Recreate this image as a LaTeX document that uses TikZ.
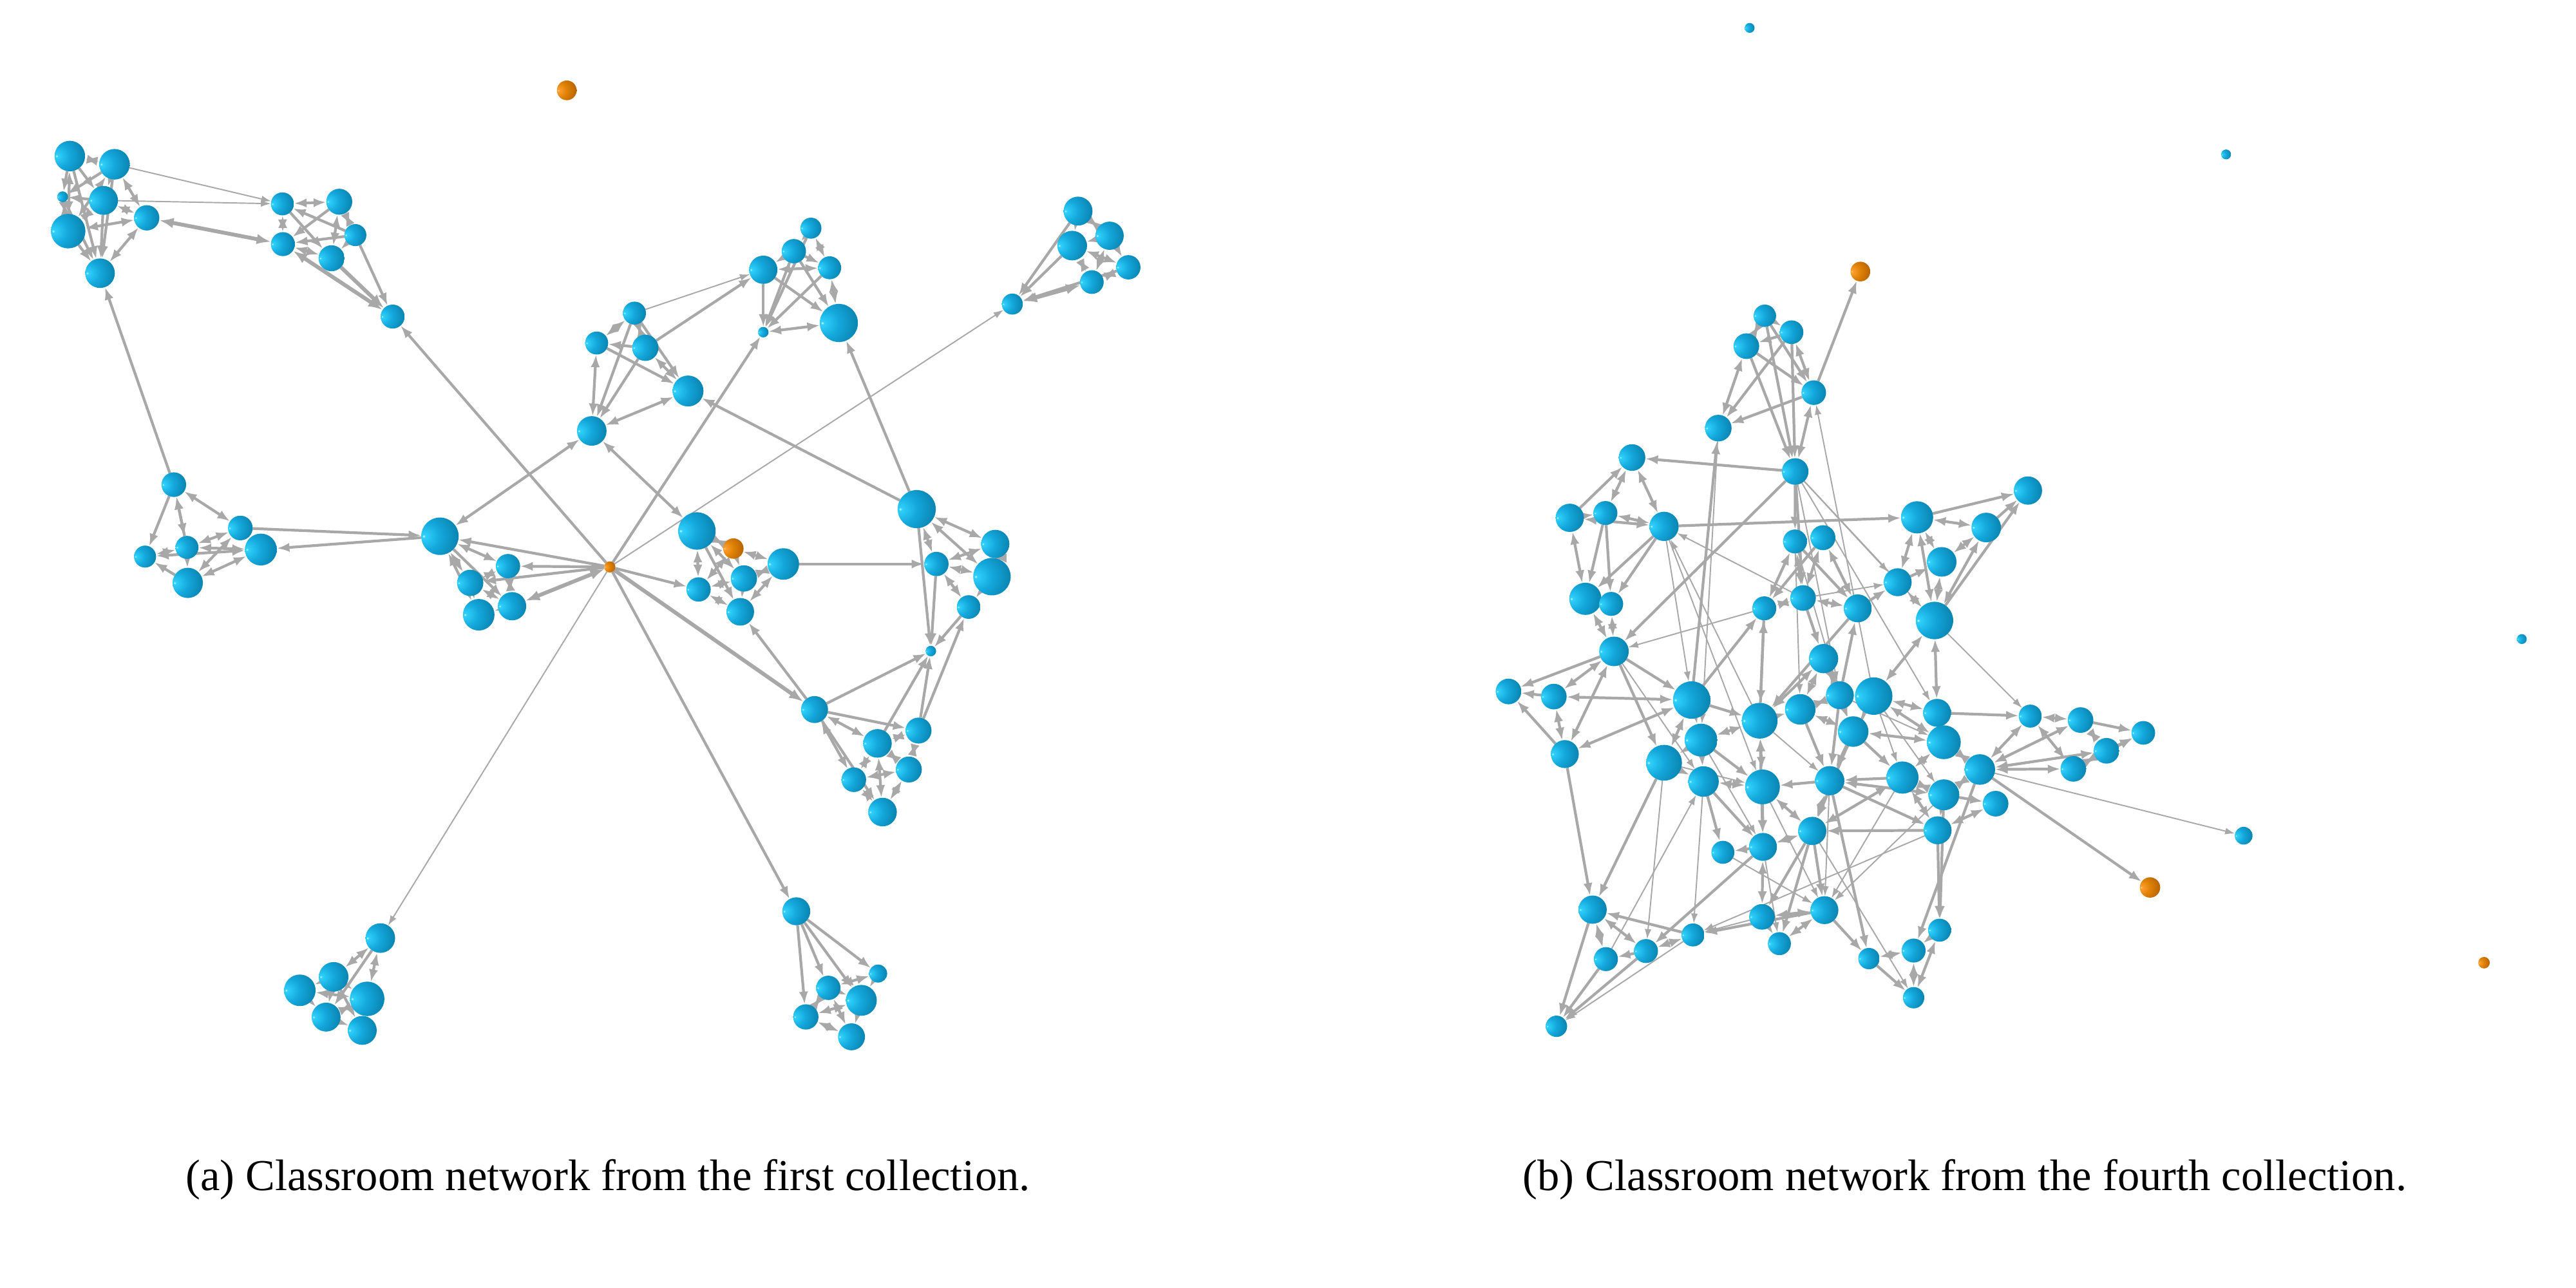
\documentclass[tikz,border=0pt]{standalone}
\usepackage{fontspec}
\setmainfont{Liberation Serif}
\usetikzlibrary{arrows.meta}
\definecolor{egray}{HTML}{A8A8A8}
\definecolor{bA}{HTML}{E0FFFF}
\definecolor{bB}{HTML}{30D0FA}
\definecolor{bC}{HTML}{14A8DC}
\definecolor{bD}{HTML}{0A85B2}
\definecolor{bE}{HTML}{035F7E}
\definecolor{bF}{HTML}{004860}
\definecolor{oA}{HTML}{FFF0C8}
\definecolor{oB}{HTML}{FFA030}
\definecolor{oC}{HTML}{E08208}
\definecolor{oD}{HTML}{B86400}
\definecolor{oE}{HTML}{884600}
\definecolor{oF}{HTML}{603000}
\pgfdeclareradialshading{bsph}{\pgfpoint{-22bp}{0bp}}{color(0bp)=(bA); color(2bp)=(bB); color(18bp)=(bC); color(38bp)=(bD); color(55bp)=(bE); color(70bp)=(bF); color(100bp)=(bF)}
\pgfdeclareradialshading{osph}{\pgfpoint{-22bp}{0bp}}{color(0bp)=(oA); color(2bp)=(oB); color(18bp)=(oC); color(38bp)=(oD); color(55bp)=(oE); color(70bp)=(oF); color(100bp)=(oF)}
\pgfdeclarelayer{bgl}
\pgfdeclarelayer{edges}
\pgfsetlayers{bgl,edges,main}
\tikzset{
 ball/.style={circle, inner sep=0pt, outer sep=0pt, draw=none, shading=bsph},
 oball/.style={circle, inner sep=0pt, outer sep=0pt, draw=none, shading=osph},
 ed/.style={draw=egray, line width=1.2pt, -{Latex[length=5.6pt,width=4pt]}},
 eb/.style={draw=egray, line width=1.2pt, {Latex[length=5.6pt,width=4pt]}-{Latex[length=5.6pt,width=4pt]}},
 et/.style={draw=egray, line width=0.55pt, -{Latex[length=4.4pt,width=3pt]}},
 ek/.style={draw=egray, line width=1.7pt, {Latex[length=6.4pt,width=4.6pt]}-{Latex[length=6.4pt,width=4.6pt]}},
 ekd/.style={draw=egray, line width=1.7pt, -{Latex[length=6.4pt,width=4.6pt]}},
 captext/.style={font=\fontsize{19.5}{23}\selectfont, inner sep=0pt}
}
\newcommand{\ballnode}[4]{\node[ball, minimum size=#4*0.5102mm] (#1) at (#2,#3) {};}
\newcommand{\orangenode}[4]{\node[oball, minimum size=#4*0.5102mm] (#1) at (#2,#3) {};}
\begin{document}
\begin{tikzpicture}[x=0.2551mm,y=-0.2551mm]
\useasboundingbox (0,0) rectangle (1568,784);
\begin{pgfonlayer}{bgl}
\fill[white] (0,0) rectangle (1568,784);
\end{pgfonlayer}
% ---------------- left graph nodes
\ballnode{a1}{42.5}{95}{9.3}
\ballnode{a2}{69.7}{100}{9.3}
\ballnode{a3}{38.1}{119.8}{3.3}
\ballnode{a4}{63}{122}{8.8}
\ballnode{a5}{41.5}{140.7}{10.5}
\ballnode{a6}{89.3}{132.6}{7.7}
\ballnode{a7}{60.9}{166.3}{9}
\ballnode{t1}{171.9}{124.1}{7}
\ballnode{t2}{206.5}{122.8}{7.9}
\ballnode{t3}{216.3}{143.1}{6.7}
\ballnode{t4}{172.2}{148.6}{7.3}
\ballnode{t5}{201.8}{157.2}{7.9}
\ballnode{t6}{239}{192.7}{7.3}
\ballnode{c1}{386.2}{190.6}{7}
\ballnode{c2}{363.2}{208.8}{7}
\ballnode{c3}{392.8}{211.7}{8}
\ballnode{c4}{418.8}{238}{9.4}
\ballnode{c5}{360.2}{262.3}{9}
\ballnode{k1}{493.6}{138.9}{6.4}
\ballnode{k2}{483.2}{152.9}{7.4}
\ballnode{k3}{464.6}{164.2}{8.6}
\ballnode{k4}{505}{163}{7}
\ballnode{k5}{464.6}{202.2}{3.2}
\ballnode{k6}{510.6}{196.6}{11.6}
\ballnode{f1}{656.2}{128.5}{8.8}
\ballnode{f2}{675.4}{143.5}{8.6}
\ballnode{f3}{652.6}{149.5}{9}
\ballnode{f4}{686.8}{162.7}{7.4}
\ballnode{f5}{664.6}{171.7}{7.2}
\ballnode{f6}{616.2}{185.1}{6.4}
\ballnode{b1}{105.8}{295}{7.5}
\ballnode{b2}{146.3}{321.4}{7.5}
\ballnode{b3}{88.3}{338.8}{6.7}
\ballnode{b4}{113.8}{333.2}{7}
\ballnode{b5}{158.8}{334.5}{9.7}
\ballnode{b6}{114.3}{354.8}{9.2}
\ballnode{d1}{267.8}{326.4}{11.4}
\ballnode{d2}{309.2}{344.6}{7.4}
\ballnode{d3}{286.2}{354.8}{8}
\ballnode{d4}{311.7}{369}{8.6}
\ballnode{d5}{291.4}{374.2}{9.6}
\orangenode{o1}{371.2}{345.1}{3.4}
\ballnode{e1}{424.2}{323.2}{11.4}
\orangenode{e2}{446.4}{333.9}{6.2}
\ballnode{e3}{476.8}{343.3}{9.6}
\ballnode{e4}{452.8}{352.1}{8}
\ballnode{e5}{425.2}{358.8}{7.4}
\ballnode{e6}{450.6}{372.4}{8.4}
\ballnode{g1}{558}{309.9}{11.6}
\ballnode{g2}{605.8}{331.1}{8.6}
\ballnode{g3}{570}{343.3}{7.4}
\ballnode{g4}{603.8}{351}{11.4}
\ballnode{g5}{589.6}{369.5}{7.2}
\ballnode{g6}{566.6}{396.3}{3.2}
\ballnode{h1}{495.8}{431.9}{8.2}
\ballnode{h2}{559.1}{444.7}{7.9}
\ballnode{h3}{534.1}{452.5}{8.7}
\ballnode{h4}{553.2}{468.4}{7.9}
\ballnode{h5}{519.7}{474.6}{7.5}
\ballnode{h6}{537.2}{494.3}{8.7}
\ballnode{i1}{231.5}{571}{9}
\ballnode{i2}{203.1}{594.6}{9}
\ballnode{i3}{182.5}{602.8}{9.6}
\ballnode{i4}{223.5}{608}{10.5}
\ballnode{i5}{198.5}{619.1}{8.8}
\ballnode{i6}{220.5}{627.2}{8.8}
\ballnode{j1}{484.7}{554.7}{8.5}
\ballnode{j2}{534.5}{592.6}{5.5}
\ballnode{j3}{504.2}{601.3}{7.4}
\ballnode{j4}{524.3}{608.9}{9.4}
\ballnode{j5}{490.5}{619}{7.7}
\ballnode{j6}{518.3}{631.1}{8.2}
\orangenode{q0}{345}{55}{6}
% ---------------- right graph nodes
\ballnode{r1}{1074.2}{192.2}{6.8}
\ballnode{r2}{1090.5}{202.2}{7.2}
\ballnode{r3}{1063}{210.7}{7.8}
\ballnode{r4}{1104}{239}{7.5}
\ballnode{r5}{1045.9}{260.6}{8.1}
\ballnode{r6}{1092.7}{287}{8.1}
\ballnode{r7}{993.4}{278.5}{8.1}
\ballnode{r8}{955.5}{315.2}{8.6}
\ballnode{r9}{977.2}{312.3}{7.3}
\ballnode{r10}{1012.9}{320.4}{8.9}
\ballnode{r11}{965}{364.5}{9.8}
\ballnode{r12}{980.7}{367.6}{7.3}
\ballnode{r13}{982.4}{396.5}{9}
\ballnode{r14}{1092.6}{329.6}{7.3}
\ballnode{r15}{1109.6}{327.3}{7.6}
\ballnode{r16}{1097.5}{364}{7.8}
\ballnode{r17}{1073.9}{370.3}{7.3}
\ballnode{r18}{1130.8}{370.3}{8.5}
\ballnode{s1}{1234.4}{298.6}{8.6}
\ballnode{s2}{1166.9}{314.9}{9.8}
\ballnode{s3}{1209}{321.1}{9}
\ballnode{s4}{1181.9}{342}{9}
\ballnode{s5}{1155.1}{354.4}{8.5}
\ballnode{s6}{1177.5}{377.7}{11.4}
\orangenode{ro}{1132.4}{165.3}{6}
\ballnode{u2}{918.2}{420.9}{7.8}
\ballnode{u3}{945.8}{424}{7.8}
\ballnode{u4}{1029.7}{426.1}{11.4}
\ballnode{u5}{952.5}{459}{8.5}
\ballnode{u6}{1035.4}{450.5}{10}
\ballnode{u7}{1012.9}{464.3}{10.9}
\ballnode{u8}{1036.9}{475.7}{9.3}
\ballnode{u9}{1071.1}{438.7}{10.9}
\ballnode{u10}{1095.8}{431.8}{9.3}
\ballnode{u11}{1110}{400.9}{8.9}
\ballnode{u12}{1119.9}{423.2}{8.5}
\ballnode{u13}{1140.5}{423.7}{11.4}
\ballnode{u14}{1128}{445.3}{9.3}
\ballnode{u15}{1072.8}{479}{10.6}
\ballnode{u16}{1113.7}{475.2}{8.9}
\ballnode{u18}{1103.1}{505.8}{8.6}
\ballnode{u19}{1073.1}{515.5}{8.5}
\ballnode{u20}{1048.7}{518.8}{7}
\ballnode{u21}{969.4}{553.7}{8.6}
\ballnode{u22}{1030.5}{569.1}{7}
\ballnode{u23}{1001.9}{578.9}{7.3}
\ballnode{u24}{977.5}{583.8}{7.3}
\ballnode{u25}{1072.5}{558.1}{7.8}
\ballnode{u26}{1110.5}{554}{8.5}
\ballnode{u27}{1083.1}{574.4}{7}
\ballnode{u28}{1137.6}{583.5}{6.5}
\ballnode{u29}{947.4}{624.7}{6.5}
\ballnode{v1}{1179.1}{433.9}{8.5}
\ballnode{v2}{1183.2}{451.8}{10.3}
\ballnode{v3}{1158}{473.3}{9.8}
\ballnode{v4}{1205.1}{468.4}{9.3}
\ballnode{v5}{1183.2}{483.8}{9.4}
\ballnode{v6}{1214.7}{489.2}{7.8}
\ballnode{v7}{1179.4}{505.4}{8.5}
\ballnode{v8}{1235.8}{435.9}{7}
\ballnode{v9}{1266.4}{438.3}{7.8}
\ballnode{v10}{1304.6}{446.1}{7.2}
\ballnode{v11}{1282.2}{457}{7.8}
\ballnode{v12}{1262}{468}{7.8}
\ballnode{v13}{1365.7}{508.7}{5.4}
\orangenode{v14}{1308.7}{540.2}{6.2}
\ballnode{v15}{1180.6}{566.2}{7}
\ballnode{v16}{1164.8}{578.6}{7.3}
\ballnode{v17}{1164.8}{607.3}{6.5}
\ballnode{w1}{1065}{17}{3}
\ballnode{w2}{1355}{94}{3}
\ballnode{w3}{1535}{389}{3}
\orangenode{w4}{1512}{586}{3.5}
% ---------------- captions
\node[captext] (capa) at (370,718) {(a) Classroom network from the first collection.};
\node[captext] (capb) at (1196,718) {(b) Classroom network from the fourth collection.};
% ---------------- edges
\begin{pgfonlayer}{edges}
% left graph
\foreach \a/\b in {a1/a3,a1/a4,a1/a7,a2/a3,a2/a7,a4/a3,a4/a7,a5/a7,a3/a7,b1/a7,
 t1/t5,t3/t1,t2/t4,t3/t4,t3/t6,o1/t6,
 c3/c2,c1/c4,c2/c4,c1/c5,c3/c5,g1/c4,c3/k3,
 k2/k4,k1/k5,k2/k5,k3/k5,k4/k5,k3/k6,k2/k6,g1/k6,o1/k5,
 f1/f6,f3/f6,f4/f6,
 b1/b3,b4/b1,b6/b3,b4/b6,b2/d1,d1/b5,
 d1/d4,o1/d1,o1/d3,
 e1/e6,e3/g3,o1/e5,h1/e6,
 g1/g6,g3/g6,g5/g6,h1/g6,h2/g6,h3/g6,h2/g5,
 h1/h2,h1/h6,
 i1/i5,i2/i5,i2/i6,
 j1/j2,j1/j3,j1/j4,j1/j5,o1/j1}
 \draw[ed] (\a) -- (\b);
\foreach \a/\b in {a1/a2,a1/a5,a2/a4,a2/a6,a4/a5,a4/a6,a5/a6,a6/a7,a3/a5,a2/a5,
 t1/t2,t1/t4,t2/t3,t2/t5,t3/t5,t4/t5,
 c1/c2,c1/c3,c3/c4,c2/c5,c5/c4,c5/d1,c5/e1,
 k1/k2,k2/k3,k1/k4,k3/k4,k4/k6,k5/k6,
 f1/f2,f1/f3,f2/f3,f2/f4,f3/f4,f4/f5,f2/f5,f3/f5,
 b1/b2,b2/b4,b2/b5,b2/b6,b3/b4,b3/b5,b4/b5,b5/b6,b1/b4,
 d1/d2,d1/d3,d1/d5,d2/d3,d2/d4,d3/d4,d3/d5,d4/d5,o1/d2,
 e1/e2,e1/e5,e2/e3,e2/e4,e3/e4,e3/e6,e4/e5,e4/e6,e5/e6,e1/e4,e2/e5,
 g1/g2,g1/g3,g2/g4,g3/g4,g3/g5,g4/g5,g2/g3,g1/g4,
 h1/h3,h1/h5,h2/h3,h3/h4,h3/h5,h4/h5,h5/h6,h4/h6,h3/h6,h2/h4,
 i1/i2,i1/i4,i2/i3,i2/i4,i3/i5,i4/i5,i4/i6,i5/i6,i3/i4,
 j2/j3,j2/j4,j3/j4,j3/j5,j4/j5,j5/j6,j4/j6,j3/j6}
 \draw[eb] (\a) -- (\b);
\foreach \a/\b in {a2/t1,a4/t1,c1/k3,o1/f6,o1/i1}
 \draw[et] (\a) -- (\b);
\foreach \a/\b in {a6/t4,t4/t6,f5/f6,o1/d4}
 \draw[ek] (\a) -- (\b);
\foreach \a/\b in {t5/t6,o1/h1}
 \draw[ekd] (\a) -- (\b);
% right graph
\foreach \a/\b in {r2/r3,r1/r4,r3/r4,r2/r5,r4/r5,r1/r6,r2/r6,r3/r6,r4/ro,r6/r7,r8/r7,r6/r13,r6/r14,r6/r16,
 r9/r11,r9/r12,r10/r11,r10/r12,r10/s2,r11/r12,r15/r17,r14/r18,r18/s5,s2/s1,s3/s1,s5/s4,s6/s1,r16/u11,
 u4/r5,u4/r17,u9/r17,r18/u9,u12/r18,
 r13/u2,r13/u4,r13/u7,u3/u2,u5/u2,u5/u21,u7/u21,u4/u9,u14/u16,u13/u16,u16/u15,u15/u19,u8/u20,u8/u19,
 u19/u20,u18/u26,u18/u25,u18/u27,v3/u16,u19/u23,u26/u22,u22/u21,u23/u24,u21/u29,u24/u29,u23/u29,
 v4/v14,v1/v8,v9/v10,v11/v10,v12/v10,v5/v6,v5/v15,v7/v15,v4/v16,u28/v17,u26/u28,u16/u28,u11/u14,
 u14/u18,u12/u16,u16/v7,u6/u15,r17/u9,u14/v3,v7/u18,u10/u16}
 \draw[ed] (\a) -- (\b);
\foreach \a/\b in {r1/r2,r1/r3,r2/r4,r3/r5,r4/r6,r7/r9,r7/r10,r8/r9,r8/r10,r9/r10,r8/r11,r11/r13,r12/r13,
 r14/r16,r14/r17,r15/r16,r15/r18,r16/r17,r16/r18,s2/s3,s4/s3,s4/s2,s4/s6,s2/s6,s3/s6,s5/s6,s5/s2,
 r13/u3,r13/u5,u3/u5,u3/u4,u4/u5,u4/u7,u6/u7,u7/u8,u6/u8,u6/u9,u8/u15,u9/u15,u9/u10,u10/u12,u10/u11,
 u12/u13,u11/u12,u10/u14,u12/u14,u13/u14,u16/u18,u15/u18,u19/u18,u19/u25,u25/u26,u25/u27,u26/u27,
 u21/u23,u21/u24,u22/u23,u13/v1,u13/v2,u14/v2,v3/v2,v3/v5,v3/v7,u16/v5,v2/v1,v2/v4,v5/v4,v5/v7,v7/v6,
 v4/v8,v4/v12,v4/v11,v4/v9,v8/v9,v8/v12,v9/v11,v12/v11,v15/v16,v16/v17,v15/v17,u28/v16,u4/u6,s6/v1,
 s6/u13,u11/u9,u9/u19,u18/v3}
 \draw[eb] (\a) -- (\b);
\foreach \a/\b in {r6/s5,r6/s6,u13/r4,r16/r10,u9/r10,r16/s5,r6/v1,r6/u12,s6/v8,r17/r13,
 u24/u8,u20/u26,u22/u29,v4/v13,v7/u22,v3/u26,r13/u8,u7/u23,u18/v17,r14/u10,r5/u6,r10/u15,u13/v5,
 r10/u4,r14/u12,u7/u15,u6/u19,u8/u22,u15/u26,u13/v3,u16/u26,u25/u22,u19/u27,v5/u26,u12/v2,u9/u16}
 \draw[et] (\a) -- (\b);
\end{pgfonlayer}
\end{tikzpicture}
\end{document}
